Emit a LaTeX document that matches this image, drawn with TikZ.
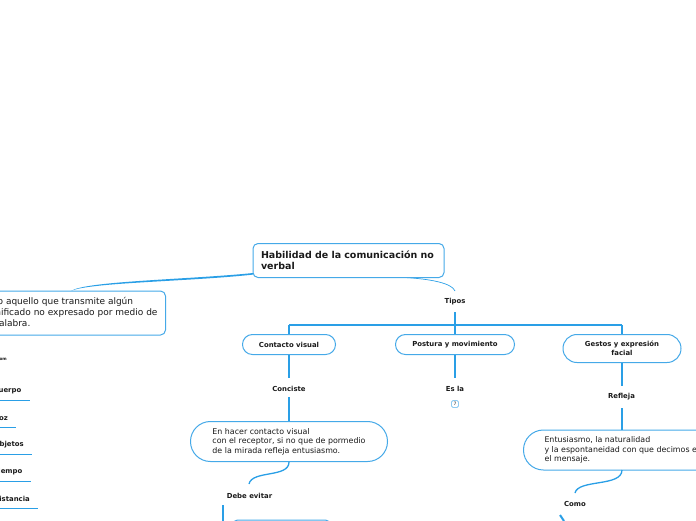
\documentclass[tikz,border=0pt]{standalone}
\usepackage{fontspec}
\setmainfont{DejaVu Sans}
\usetikzlibrary{calc}
\definecolor{lk}{HTML}{2A9FE6}
\definecolor{bd}{HTML}{45A9E8}
\definecolor{tx}{HTML}{1A1A1A}
\tikzset{
 x=1pt,y=-1pt,
 box/.style={draw=bd,line width=1pt,fill=white,inner sep=0pt,text=tx},
 rootbox/.style={box,rounded corners=5pt,font=\fontsize{9.5}{11}\selectfont\bfseries},
 descbox/.style={box,rounded corners=5pt,font=\fontsize{9}{11}\selectfont},
 pill/.style={box,rounded corners=9.9pt,font=\fontsize{6.9}{9}\selectfont\bfseries},
 textpill/.style={box,rounded corners=19.9pt,font=\fontsize{7.9}{9.5}\selectfont},
 lab/.style={inner sep=0pt,text=tx,font=\fontsize{6.9}{9}\selectfont\bfseries},
 lnk/.style={draw=lk,line width=1.3pt},
 under/.style={draw=lk,line width=0.9pt},
 mark7/.style={draw=bd!60,line width=0.8pt,rounded corners=1.5pt,minimum width=7pt,minimum height=7pt,inner sep=0pt,text=tx,font=\fontsize{4.5}{5}\selectfont}
}
\begin{document}
\begin{tikzpicture}
\useasboundingbox (0,0) rectangle (696,520);
\clip (0,0) rectangle (696,520);
% anchor coordinates
\coordinate (rootL) at (253,274);
\coordinate (descT) at (71,291);
\coordinate (rootB) at (405,277.5);
\coordinate (tiposT) at (455,291);
\coordinate (barTop) at (455,312);
\coordinate (hL) at (289,325);
\coordinate (hM) at (455,325);
\coordinate (hR) at (622,325);
\coordinate (concB) at (289,378);
\coordinate (concT) at (289,397);
\coordinate (eslaT) at (455,378);
\coordinate (refT) at (622,386);
\coordinate (refB) at (622,408);
\coordinate (debeT) at (249,484);
\coordinate (comoT) at (575,493);
\coordinate (vbT) at (223,505);
\coordinate (vbB) at (223,521);
\coordinate (cmA) at (560,515);
\coordinate (cmB) at (564,521);
% connectors drawn under the boxes
\fill[lk] (rootL) ++(0,-1) .. controls (190,279.5) and (85,281) .. (descT) .. controls (88,282.5) and (190,281.5) .. ($(rootL)+(0,0.6)$) -- cycle;
\draw[draw=lk,line width=0.7pt] (rootB) .. controls (430,279) and (452,283) .. (tiposT);
\draw[lnk] (barTop) -- (hM);
\draw[lnk] (hL) -- (hR);
\draw[lnk] (hL) -- (289,335);
\draw[lnk] (hM) -- (455,335);
\draw[lnk] (hR) -- (622,335);
% boxes
\node[rootbox,minimum width=191pt,minimum height=34pt,text width=175pt,align=left] (root) at (348.5,260.5) {Habilidad de la comunicación no\\verbal};
\node[descbox,minimum height=44pt,inner xsep=8pt,align=left,anchor=east] (desc) at (166,313) {Todo aquello que transmite algún\\significado no expresado por medio de\\la palabra.};
\node[pill,minimum width=93pt,minimum height=20pt] (contacto) at (289,344.5) {Contacto visual};
\node[pill,minimum width=119pt,minimum height=20pt] (postura) at (455,344.5) {Postura y movimiento};
\node[pill,minimum width=118pt,minimum height=28pt,align=center,rounded corners=13.9pt] (gestos) at (622,348.5) {Gestos y expresión\\facial};
\node[textpill,minimum height=40pt,minimum width=197pt,align=left] (hacer) at (289,441.5) {En hacer contacto visual\\con el receptor, si no que de pormedio\\de la mirada refleja entusiasmo.};
\node[textpill,minimum height=40pt,inner xsep=21pt,align=left,anchor=west] (entu) at (523,450) {Entusiasmo, la naturalidad\\y la espontaneidad con que decimos es\\el mensaje.};
\node[draw=bd,line width=1pt,rounded corners=5pt,minimum width=98pt,minimum height=20pt,anchor=north west,fill=white] (bottombox) at (232,519.5) {};
% labels
\node[lab] (tipos) at (455,302) {Tipos};
\node[lab] (conciste) at (289,388.5) {Conciste};
\node[lab] (esla) at (455,388.5) {Es la};
\node[lab] (refleja) at (621.5,397) {Refleja};
\node[lab] (debe) at (249.5,496) {Debe evitar};
\node[lab] (como) at (575,504) {Como};
\node[mark7] (q) at (455,404) {7};
\node[inner sep=0pt,text=tx,font=\fontsize{4.2}{5}\selectfont\bfseries,anchor=east] (com) at (7,359) {Com};
\node[lab,anchor=east] (cuerpo) at (21.5,391) {Cuerpo};
\node[lab,anchor=east] (voz) at (8,418) {Voz};
\node[lab,anchor=east] (objetos) at (24,445) {Objetos};
\node[lab,anchor=east] (tiempo) at (22.5,472) {Tiempo};
\node[lab,anchor=east] (distancia) at (30,498.5) {Distancia};
\coordinate (u1) at (30,400.5);
\coordinate (u2) at (16,427.5);
\coordinate (u3) at (32,454.5);
\coordinate (u4) at (31,481.5);
\coordinate (u5) at (38,508.5);
\draw[under] (0,400.5) -- (u1);
\draw[under] (0,427.5) -- (u2);
\draw[under] (0,454.5) -- (u3);
\draw[under] (0,481.5) -- (u4);
\draw[under] (0,508.5) -- (u5);
% remaining connectors
\draw[lnk] (contacto.south) -- (concB);
\draw[lnk] (concT) -- (hacer.north);
\draw[lnk] (postura.south) -- (eslaT);
\draw[lnk] (gestos.south) -- (refT);
\draw[lnk] (refB) -- (622,430);
\draw[lnk] (hacer.south) .. controls (289,478) and (252,470) .. (debeT);
\draw[lnk] (622,470) .. controls (622,487) and (578,479) .. (comoT);
\draw[draw=lk,line width=2pt] (vbT) -- (vbB);
\draw[draw=lk,line width=2pt] (cmA) -- (cmB);
\end{tikzpicture}
\end{document}
